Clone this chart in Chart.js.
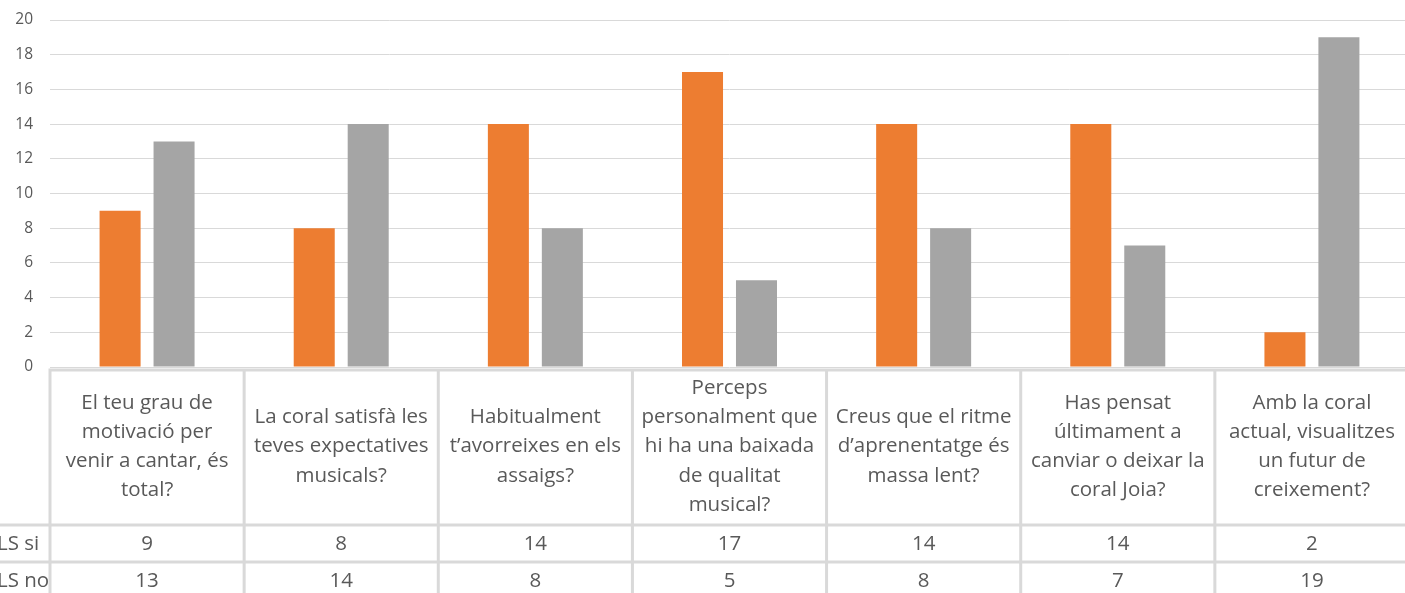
<!DOCTYPE html>
<html>
<head>
<meta charset="utf-8">
<script src="https://cdn.jsdelivr.net/npm/chart.js@4"></script>
<style>
  html, body { margin: 0; padding: 0; background: #fff; overflow: hidden; }
  #wrap { width: 1412px; height: 600px; position: relative; }
</style>
</head>
<body>
<div id="wrap"><canvas id="c"></canvas></div>
<script>
const categories = [
  ["El teu grau de", "motivació per", "venir a cantar, és", "total?"],
  ["La coral satisfà les", "teves expectatives", "musicals?"],
  ["Habitualment", "t’avorreixes en els", "assaigs?"],
  ["Perceps", "personalment que", "hi ha una baixada", "de qualitat", "musical?"],
  ["Creus que el ritme", "d’aprenentatge és", "massa lent?"],
  ["Has pensat", "últimament a", "canviar o deixar la", "coral Joia?"],
  ["Amb la coral", "actual, visualitzes", "un futur de", "creixement?"]
];
const seriesNames = ["LS si", "LS no"];
const siValues = [9, 8, 14, 17, 14, 14, 2];
const noValues = [13, 14, 8, 5, 8, 7, 19];
const yTicks = [0, 2, 4, 6, 8, 10, 12, 14, 16, 18, 20];

const FONT = "'Open Sans', 'Noto Sans', sans-serif";
const TEXT = '#595959';
const LINE = '#d9d9d9';
const TABLE_SIZE = 20.5;

const tablePlugin = {
  id: 'dataTable',
  afterDraw(chart) {
    const ctx = chart.ctx;
    const x = chart.scales.x;
    const area = chart.chartArea;
    const n = categories.length;
    const colW = (area.right - area.left) / n;
    const top = area.bottom + 3;
    const row1 = x.bottom;
    const rowH = 37;
    const row2 = row1 + rowH;
    const H = chart.height;
    ctx.save();
    ctx.strokeStyle = LINE;
    ctx.lineWidth = 3;
    ctx.beginPath();
    ctx.moveTo(area.left - 1.5, top);
    ctx.lineTo(chart.width, top);
    ctx.moveTo(0, row1);
    ctx.lineTo(chart.width, row1);
    ctx.moveTo(0, row2);
    ctx.lineTo(chart.width, row2);
    for (let i = 0; i <= n; i++) {
      const cx = area.left + i * colW;
      ctx.moveTo(cx, top - 1.5);
      ctx.lineTo(cx, H);
    }
    ctx.stroke();

    ctx.fillStyle = TEXT;
    ctx.font = TABLE_SIZE + "px " + FONT;
    ctx.textBaseline = 'middle';
    ctx.textAlign = 'left';
    ctx.fillText(seriesNames[0], -3, row1 + rowH / 2 + 1);
    ctx.fillText(seriesNames[1], -3, row2 + rowH / 2 + 1);
    ctx.textAlign = 'center';
    for (let i = 0; i < n; i++) {
      const cx = x.getPixelForValue(i);
      ctx.fillText(String(siValues[i]), cx, row1 + rowH / 2 + 1);
      ctx.fillText(String(noValues[i]), cx, row2 + rowH / 2 + 1);
    }
    ctx.restore();
  }
};

new Chart(document.getElementById('c'), {
  type: 'bar',
  data: {
    labels: categories,
    datasets: [
      { label: seriesNames[0], data: siValues, backgroundColor: '#ED7D31', borderWidth: 0 },
      { label: seriesNames[1], data: noValues, backgroundColor: '#A5A5A5', borderWidth: 0 }
    ]
  },
  options: {
    responsive: true,
    maintainAspectRatio: false,
    animation: false,
    layout: { padding: { top: 20, right: 3, left: 0, bottom: 75 } },
    datasets: { bar: { categoryPercentage: 0.556, barPercentage: 0.76 } },
    plugins: { legend: { display: false }, tooltip: { enabled: false } },
    scales: {
      x: {
        grid: { display: false },
        border: { display: false },
        ticks: {
          color: TEXT,
          font: { family: FONT, size: TABLE_SIZE, lineHeight: 1.43 },
          maxRotation: 0,
          autoSkip: false,
          crossAlign: 'center',
          padding: 13
        },
        afterFit(s) { s.height = 158; }
      },
      y: {
        min: 0,
        max: 20,
        afterBuildTicks(s) { s.ticks = yTicks.map(v => ({ value: v })); },
        grid: { color: LINE, lineWidth: 1, drawTicks: false },
        border: { display: false },
        ticks: { color: TEXT, font: { family: FONT, size: 15.5 }, padding: 17 },
        afterFit(s) { s.width = 50; s.paddingTop = 0; s.paddingBottom = 0; }
      }
    }
  },
  plugins: [tablePlugin]
});
</script>
</body>
</html>
